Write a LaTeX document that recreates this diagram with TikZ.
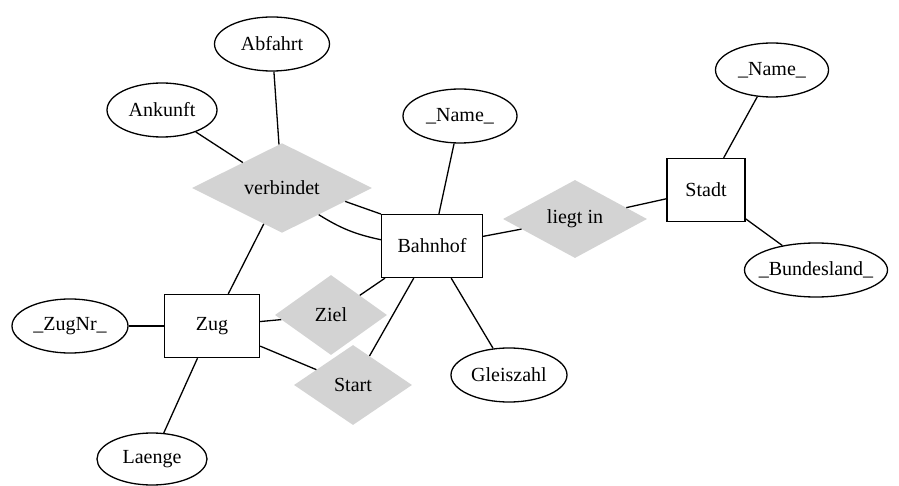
\documentclass[tikz,border=0pt]{standalone}
\usepackage{fontspec}
\setmainfont{Liberation Serif}
\usetikzlibrary{shapes.geometric}
\definecolor{relgray}{RGB}{211,211,211}
\tikzset{
  every node/.style={font=\fontsize{20}{24}\selectfont, inner sep=0pt},
  attr/.style={draw, ellipse, line width=1.3pt, minimum height=54pt, inner xsep=-12pt},
  ent/.style={draw, rectangle, line width=1.3pt, minimum height=63pt},
  rel/.style={diamond, fill=relgray, minimum height=80pt},
  con/.style={line width=1.3pt}
}
\begin{document}
\begin{tikzpicture}[x=1pt,y=-1pt]
\useasboundingbox (0,0) rectangle (899,486);
% entities
\node[ent, minimum width=101pt] (bahnhof) at (432,246) {Bahnhof};
\node[ent, minimum width=78pt] (stadt) at (706,190) {Stadt};
\node[ent, minimum width=95pt] (zug) at (212,326) {Zug};
% relationships
\node[rel, minimum width=180pt] (verbindet) at (282,188) {verbindet};
\node[rel, minimum width=144pt, minimum height=78pt] (liegt) at (575,219) {liegt in};
\node[rel, minimum width=112pt] (ziel) at (331,315) {Ziel};
\node[rel, minimum width=118pt] (start) at (353,385) {Start};
% attributes
\node[attr, minimum width=115pt] (abfahrt) at (272,44) {Abfahrt};
\node[attr, minimum width=110pt] (ankunft) at (162,110) {Ankunft};
\node[attr, minimum width=114pt] (bname) at (460,116) {\_Name\_};
\node[attr, minimum width=113pt] (sname) at (772,70) {\_Name\_};
\node[attr, minimum width=143pt] (bundesland) at (816,270) {\_Bundesland\_};
\node[attr, minimum width=116pt] (zugnr) at (70,326) {\_ZugNr\_};
\node[attr, minimum width=116pt] (gleiszahl) at (509,375) {Gleiszahl};
\node[attr, minimum width=110pt, minimum height=52pt] (laenge) at (152,459) {Laenge};
% connectors
\draw[con] (abfahrt) -- (verbindet);
\draw[con] (ankunft) -- (verbindet);
\draw[con] (verbindet) -- (zug);
\draw[con] (verbindet.-12.6) -- (bahnhof.148);
\draw[con] (verbindet.-36.6) to[bend right=10] (bahnhof.173);
\draw[con] (bname) -- (bahnhof);
\draw[con] (bahnhof) -- (liegt);
\draw[con] (liegt) -- (stadt);
\draw[con] (stadt) -- (sname);
\draw[con] (stadt) -- (bundesland);
\draw[con] (zugnr) -- (zug);
\draw[con] (zug) -- (ziel);
\draw[con] (zug) -- (start);
\draw[con] (zug) -- (laenge);
\draw[con] (ziel) -- (bahnhof);
\draw[con] (start) -- (bahnhof);
\draw[con] (bahnhof) -- (gleiszahl);
\end{tikzpicture}
\end{document}
